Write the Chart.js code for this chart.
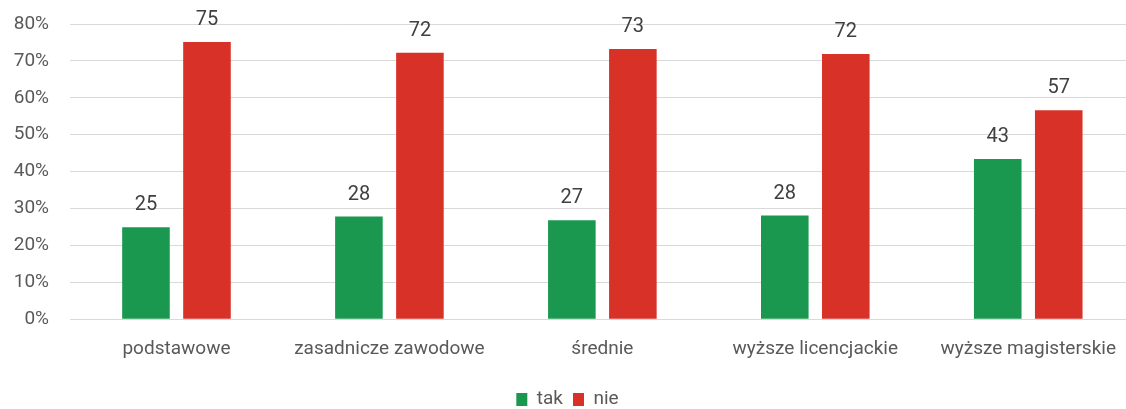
<!DOCTYPE html>
<html>
<head>
<meta charset="utf-8">
<script src="https://cdn.jsdelivr.net/npm/chart.js@4"></script>
<style>
  html, body { margin: 0; padding: 0; background: #fff; overflow: hidden; }
  #clip { width: 1126px; height: 409px; overflow: hidden; }
  #wrap { width: 1135px; height: 409px; position: relative; }
</style>
</head>
<body>
<div id="clip"><div id="wrap"><canvas id="chart"></canvas></div></div>
<script>
// --- Data ---
const categories = ['podstawowe', 'zasadnicze zawodowe', 'średnie', 'wyższe licencjackie', 'wyższe magisterskie'];
const takValues = [24.9, 27.8, 26.8, 28.1, 43.4];
const nieValues = [75.1, 72.2, 73.2, 71.9, 56.6];
const yTicks = [0, 10, 20, 30, 40, 50, 60, 70, 80];

const FONT = "Roboto, 'Liberation Sans', sans-serif";

// draws the rounded value above each bar
const barValueLabels = {
    id: 'barValueLabels',
    afterDatasetsDraw(chart) {
        const ctx = chart.ctx;
        ctx.save();
        ctx.font = '20px ' + FONT;
        ctx.fillStyle = '#404040';
        ctx.textAlign = 'center';
        ctx.textBaseline = 'alphabetic';
        chart.data.datasets.forEach((ds, i) => {
            chart.getDatasetMeta(i).data.forEach((bar, j) => {
                ctx.fillText(Math.round(ds.data[j]), bar.x, bar.y - 17);
            });
        });
        ctx.restore();
    }
};

new Chart(document.getElementById('chart'), {
    type: 'bar',
    data: {
        labels: categories,
        datasets: [
            { label: 'tak', data: takValues, backgroundColor: '#1B9850' },
            { label: 'nie', data: nieValues, backgroundColor: '#D83128' }
        ]
    },
    options: {
        responsive: true,
        maintainAspectRatio: false,
        animation: false,
        categoryPercentage: 0.573,
        barPercentage: 0.78,
        layout: { padding: { top: 24, right: 0, bottom: -10, left: 0 } },
        plugins: {
            legend: {
                position: 'bottom',
                labels: {
                    color: '#595959',
                    font: { family: FONT, size: 19 },
                    boxWidth: 11,
                    boxHeight: 13,
                    padding: 10
                }
            },
            tooltip: { enabled: false }
        },
        scales: {
            x: {
                grid: { display: false, drawTicks: false },
                border: { color: '#d9d9d9' },
                ticks: {
                    color: '#595959',
                    font: { family: FONT, size: 19 },
                    padding: 19,
                    maxRotation: 0,
                    autoSkip: false
                }
            },
            y: {
                min: 0,
                max: 80,
                afterBuildTicks: axis => { axis.ticks = yTicks.map(v => ({ value: v })); },
                afterFit: axis => { axis.width = 70; },
                // transparent tick marks leave the gap between labels and plot
                grid: { color: '#d9d9d9', drawTicks: true, tickLength: 21, tickColor: 'rgba(0,0,0,0)' },
                border: { display: false },
                ticks: {
                    color: '#595959',
                    font: { family: FONT, size: 19 },
                    padding: 0,
                    callback: v => v + '%'
                }
            }
        }
    },
    plugins: [barValueLabels]
});
</script>
</body>
</html>
